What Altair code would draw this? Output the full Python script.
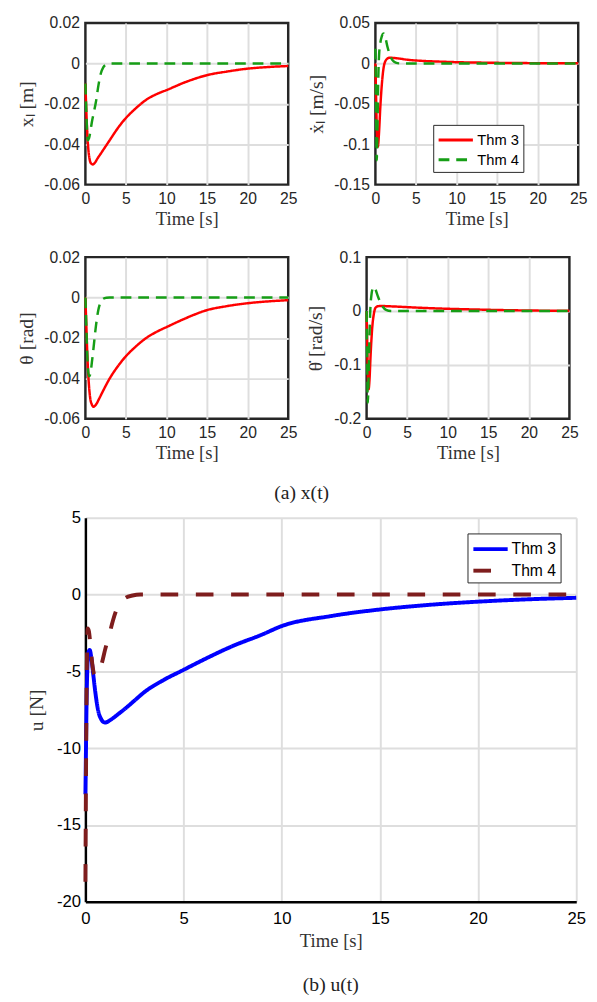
import altair as alt
import pandas as pd

SERIES = ["Thm 3", "Thm 4"]

# ---- x_l [m] ----
xl3_t = [0, 0.1, 0.2, 0.35, 0.5, 0.7, 0.9, 1.1, 1.5, 2, 3, 4, 5, 6, 7.5, 9, 10, 12.5, 15, 17.5, 20, 22.5, 25]
xl3_v = [-0.010, -0.022, -0.032, -0.042, -0.047, -0.0495, -0.050, -0.0495, -0.047, -0.044, -0.038, -0.032,
         -0.027, -0.023, -0.018, -0.0148, -0.0132, -0.009, -0.0058, -0.0040, -0.0026, -0.0018, -0.0013]
xl4_t = [0, 0.1, 0.2, 0.3, 0.45, 0.6, 0.8, 1.0, 1.3, 1.6, 1.9, 2.2, 2.6, 3, 25]
xl4_v = [-0.010, -0.022, -0.033, -0.038, -0.037, -0.034, -0.029, -0.025, -0.019, -0.011, -0.005, -0.002,
         -0.0005, 0, 0]

# ---- x_l dot [m/s] ----
xd3_t = [0, 0.1, 0.2, 0.3, 0.45, 0.6, 0.8, 1.0, 1.3, 1.7, 2.5, 4, 6, 8, 10, 13, 16, 20, 25]
xd3_v = [0, -0.05, -0.09, -0.103, -0.085, -0.055, -0.025, -0.006, 0.004, 0.007, 0.0065, 0.0045, 0.003,
         0.0022, 0.0015, 0.001, 0.0006, 0.0003, 0.0001]
xd4_t = [0, 0.08, 0.16, 0.25, 0.35, 0.45, 0.6, 0.8, 1.0, 1.2, 1.5, 1.8, 2.1, 2.5, 3, 25]
xd4_v = [0.018, -0.05, -0.12, -0.08, -0.02, 0.01, 0.025, 0.034, 0.037, 0.033, 0.02, 0.01, 0.004, 0.001, 0, 0]

# ---- theta [rad] ----
th3_t = [0, 0.1, 0.2, 0.3, 0.45, 0.6, 0.8, 1.0, 1.3, 1.7, 2.2, 3, 4, 5, 6, 7.5, 9, 10, 12.5, 15, 17.5, 20, 22.5, 25]
th3_v = [0, -0.012, -0.024, -0.034, -0.044, -0.050, -0.053, -0.054, -0.053, -0.050, -0.046, -0.040, -0.034,
         -0.029, -0.025, -0.020, -0.0165, -0.0146, -0.010, -0.0062, -0.0042, -0.0028, -0.0019, -0.0013]
th4_t = [0, 0.1, 0.2, 0.3, 0.45, 0.6, 0.8, 1.0, 1.3, 1.6, 1.9, 2.2, 2.6, 3, 25]
th4_v = [0, -0.012, -0.025, -0.034, -0.039, -0.038, -0.032, -0.025, -0.014, -0.006, -0.002, -0.0006,
         -0.0001, 0, 0]

# ---- theta dot [rad/s] ----
td3_t = [0, 0.08, 0.16, 0.25, 0.35, 0.5, 0.7, 0.9, 1.1, 1.4, 1.8, 2.5, 4, 6, 8, 10, 13, 16, 20, 25]
td3_v = [0, -0.06, -0.12, -0.145, -0.13, -0.08, -0.03, -0.005, 0.006, 0.009, 0.0095, 0.009, 0.008, 0.0065,
         0.0052, 0.0042, 0.003, 0.002, 0.001, 0.0005]
td4_t = [0, 0.07, 0.15, 0.25, 0.35, 0.45, 0.6, 0.75, 0.9, 1.1, 1.4, 1.7, 2.0, 2.4, 3, 25]
td4_v = [0, -0.09, -0.17, -0.12, -0.05, 0.0, 0.03, 0.042, 0.045, 0.04, 0.027, 0.016, 0.008, 0.002, 0, 0]

# ---- u [N] ----
u3_t = [0, 0.03, 0.06, 0.1, 0.15, 0.22, 0.3, 0.4, 0.5, 0.6, 0.7, 0.8, 0.9, 1.0, 1.1, 1.2, 1.4, 1.7, 2, 2.5,
        3, 4, 5, 6, 7.5, 9, 10, 12.5, 15, 17.5, 20, 22.5, 25]
u3_v = [-13, -10, -7, -4.8, -3.8, -3.6, -4.1, -5.2, -6.3, -7.2, -7.8, -8.1, -8.28, -8.33, -8.3, -8.22,
        -8.05, -7.75, -7.45, -6.9, -6.35, -5.55, -4.9, -4.25, -3.35, -2.6, -2.05, -1.4, -0.97, -0.67,
        -0.46, -0.31, -0.21]
u4_t = [0, 0.02, 0.05, 0.08, 0.12, 0.18, 0.25, 0.35, 0.45, 0.55, 0.7, 0.85, 1.0, 1.2, 1.4, 1.7, 2.0,
        2.4, 2.8, 25]
u4_v = [-18.7, -14, -8, -4, -2.2, -2.4, -3.2, -4.5, -5.2, -5.3, -5.0, -4.4, -3.6, -2.7, -1.7, -0.65,
        -0.25, -0.06, 0, 0]

TIME_TICKS = [0, 5, 10, 15, 20, 25]
TIME_DOMAIN = [0, 25]

SANS = "Liberation Sans"
SERIF = "Liberation Serif"
LEGEND_STROKE = "M-1,0H2.5"
FRAME = "#262626"


def frame(t3, v3, t4, v4):
    rows = [{"t": a, "v": b, "s": SERIES[0]} for a, b in zip(t3, v3)]
    rows += [{"t": a, "v": b, "s": SERIES[1]} for a, b in zip(t4, v4)]
    return pd.DataFrame(rows)


def hide_grid_at(vals):
    test = " || ".join("abs(datum.value - (%s)) < 1e-9" % v for v in vals)
    return {"condition": {"test": test, "value": 0}, "value": 1}


def panel(df, ytitle, ydom, yticks, colors, dashes, w, h, sw, legend,
          lab_size, axis_color, big=False):
    if big:
        xhide, yhide = [TIME_DOMAIN[0]], [ydom[0]]
    else:
        xhide, yhide = TIME_DOMAIN, ydom
    xaxis = alt.Axis(values=TIME_TICKS, title="Time [s]", grid=True, gridColor="#DEDEDE",
                     gridWidth=2, gridOpacity=hide_grid_at(xhide),
                     domain=big, domainColor="black", domainWidth=2.5,
                     ticks=False, labelFlush=False,
                     labelFont=SANS, labelFontSize=lab_size,
                     labelColor=axis_color, labelPadding=9 if big else 6, titleFont=SERIF,
                     titleFontSize=19, titleFontWeight="normal",
                     titleColor="#333333", titlePadding=6 if big else 4)
    yaxis = alt.Axis(values=yticks, title=ytitle, grid=True, gridColor="#DEDEDE", gridWidth=2,
                     gridOpacity=hide_grid_at(yhide),
                     domain=big, domainColor="black", domainWidth=2.5,
                     ticks=False, labelFlush=False,
                     labelFont=SANS, labelFontSize=lab_size, labelColor=axis_color,
                     labelPadding=5 if big else 6, labelExpr="toString(datum.value)",
                     titleFont=SERIF, titleFontSize=20,
                     titleFontWeight="normal", titleColor="#333333",
                     titlePadding=10 if big else 8)
    color_enc = alt.Color("s:N", scale=alt.Scale(domain=SERIES, range=colors), legend=legend)
    dash_enc = alt.StrokeDash("s:N", scale=alt.Scale(domain=SERIES, range=dashes), legend=legend)
    xs = alt.Scale(domain=TIME_DOMAIN, nice=False)
    ys = alt.Scale(domain=ydom, nice=False, zero=False)
    lines = alt.Chart(df).mark_line(strokeWidth=sw, strokeCap="butt",
                                    interpolate="monotone").encode(
        x=alt.X("t:Q", scale=xs, axis=xaxis),
        y=alt.Y("v:Q", scale=ys, axis=yaxis),
        color=color_enc,
        strokeDash=dash_enc,
    )
    if big:
        view = alt.ViewBackground(stroke="transparent", strokeWidth=0)
    else:
        view = alt.ViewBackground(stroke=FRAME, strokeWidth=2.5)
    return lines.properties(width=w, height=h, view=view)


TOP_COLORS = ["#FF0000", "#169E16"]
TOP_DASH = [[1, 0], [11, 7]]
BIG_COLORS = ["#0000FF", "#7E1D1D"]
BIG_DASH = [[1, 0], [18, 18]]

small_legend = alt.Legend(title=None, orient="none", legendX=59, legendY=104,
                          symbolType=LEGEND_STROKE, symbolSize=400, symbolStrokeWidth=3,
                          labelFont=SANS, labelFontSize=15, labelColor="black",
                          strokeColor=FRAME, padding=4, rowPadding=0, labelOffset=18,
                          fillColor="white")
big_legend = alt.Legend(title=None, orient="none", legendX=390, legendY=16,
                        symbolType=LEGEND_STROKE, symbolSize=400, symbolStrokeWidth=4,
                        labelFont=SANS, labelFontSize=16, labelColor="black",
                        strokeColor=FRAME, padding=4, rowPadding=2, labelOffset=17,
                        fillColor="white")

W, H = 207, 165
p1 = panel(frame(xl3_t, xl3_v, xl4_t, xl4_v), "xₗ [m]", [-0.06, 0.02],
           [-0.06, -0.04, -0.02, 0, 0.02], TOP_COLORS, TOP_DASH, W, H, 2.5, None, 16, FRAME)
p2 = panel(frame(xd3_t, xd3_v, xd4_t, xd4_v), "ẋₗ [m/s]", [-0.15, 0.05],
           [-0.15, -0.1, -0.05, 0, 0.05], TOP_COLORS, TOP_DASH, W, H, 2.5, small_legend, 16, FRAME)
p3 = panel(frame(th3_t, th3_v, th4_t, th4_v), "θ [rad]", [-0.06, 0.02],
           [-0.06, -0.04, -0.02, 0, 0.02], TOP_COLORS, TOP_DASH, W, H, 2.5, None, 16, FRAME)
p4 = panel(frame(td3_t, td3_v, td4_t, td4_v), "θ̇ [rad/s]", [-0.2, 0.1],
           [-0.2, -0.1, 0, 0.1], TOP_COLORS, TOP_DASH, W, H, 2.5, None, 16, FRAME)
pb = panel(frame(u3_t, u3_v, u4_t, u4_v), "u [N]", [-20, 5],
           [-20, -15, -10, -5, 0, 5], BIG_COLORS, BIG_DASH, 501, 392, 4, big_legend, 17, "black",
           big=True)

row1 = alt.hconcat(p1, p2, spacing=6).resolve_scale(color="independent", strokeDash="independent")
row2 = alt.hconcat(p3, p4, spacing=6).resolve_scale(color="independent", strokeDash="independent")
top = alt.vconcat(row1, row2, spacing=17).resolve_scale(
    color="independent", strokeDash="independent").properties(
    title=alt.Title("(a) x(t)", orient="bottom", font=SERIF, fontSize=20, fontWeight="normal",
                    color="#222222", offset=20, anchor="middle"))
bottom = pb.properties(
    title=alt.Title("(b) u(t)", orient="bottom", font=SERIF, fontSize=20, fontWeight="normal",
                    color="#222222", offset=25, anchor="middle"))

chart = alt.concat(top, bottom, columns=1, spacing=5, align="none").resolve_scale(
    color="independent", strokeDash="independent").properties(
    padding={"left": 7, "top": -5, "right": 0, "bottom": 0}).configure(
    background="white").configure_view(stroke=FRAME, strokeWidth=2.5)

chart.save("out.html", embed_options={"renderer": "svg", "actions": False})
